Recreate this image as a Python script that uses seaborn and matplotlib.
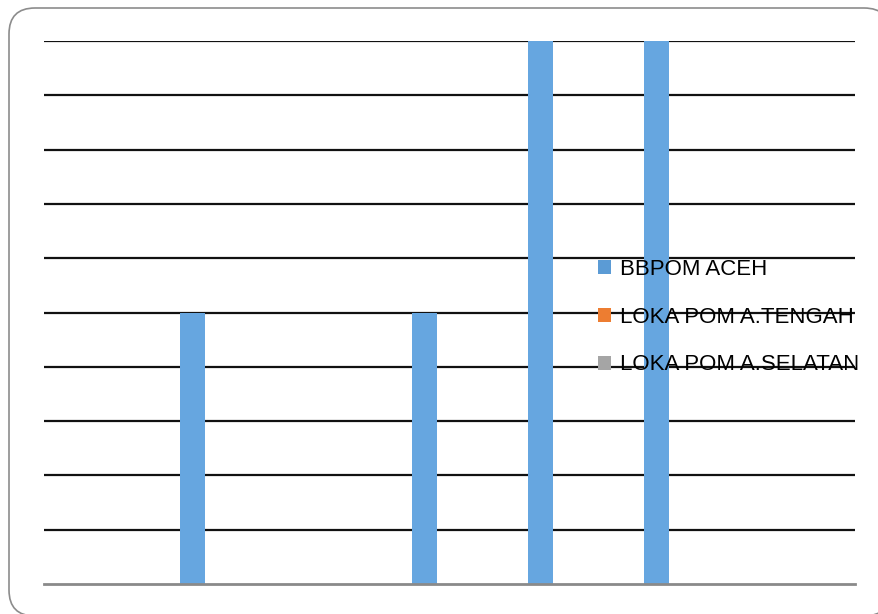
import numpy as np
import pandas as pd
import matplotlib.pyplot as plt
import seaborn as sns
from matplotlib.patches import FancyBboxPatch, Patch

# Data (no category labels are shown in the chart)
categories = ['1', '2', '3', '4', '5', '6', '7']
series = ['BBPOM ACEH', 'LOKA POM A.TENGAH', 'LOKA POM A.SELATAN']
bbpom_aceh = [0, 5, 0, 5, 10, 10, 0]
loka_tengah = [0, 0, 0, 0, 0, 0, 0]
loka_selatan = [0, 0, 0, 0, 0, 0, 0]
colors = ['#66A6E0', '#ED7D31', '#A5A5A5']
legend_colors = ['#5B9BD5', '#ED7D31', '#A5A5A5']

df = pd.DataFrame({
    'Kategori': categories * 3,
    'Nilai': bbpom_aceh + loka_tengah + loka_selatan,
    'Balai': [s for s in series for _ in categories],
})

sns.set_style('white')
plt.rcParams['font.family'] = ['Liberation Sans', 'DejaVu Sans']

fig = plt.figure(figsize=(8.79, 6.14), dpi=100)

# rounded chart frame, drawn in pixel units on a background axes
bg = fig.add_axes([0, 0, 1, 1], zorder=-1)
bg.set_xlim(0, 879)
bg.set_ylim(614, 0)
bg.axis('off')
bg.add_patch(FancyBboxPatch((9, 8), 881, 608,
                            boxstyle='round,pad=0,rounding_size=26',
                            facecolor='white', edgecolor='#8c8c8c',
                            linewidth=1.2))

ax = fig.add_axes([44 / 879, 1 - 584 / 614, 811 / 879, 543 / 614])
ax.set_facecolor('none')
sns.barplot(data=df, x='Kategori', y='Nilai', hue='Balai', palette=colors,
            width=0.65, ax=ax, legend=False, saturation=1, linewidth=0)

ax.set_ylim(0, 10)
ax.set_xlim(-0.5, 6.5)
ax.set_yticks(np.arange(1, 11))
ax.set_axisbelow(True)
ax.grid(axis='y', color='#111111', linewidth=1.6)
ax.grid(axis='x', visible=False)
ax.tick_params(left=False, bottom=False, labelleft=False, labelbottom=False)
ax.set_xlabel('')
ax.set_ylabel('')
for side in ['top', 'left', 'right']:
    ax.spines[side].set_visible(False)
ax.spines['bottom'].set_color('#8a8a8a')
ax.spines['bottom'].set_linewidth(2)

handles = [Patch(facecolor=c, edgecolor='none') for c in legend_colors]
leg = fig.legend(handles, series, loc='upper left',
                 bbox_to_anchor=(587 / 879, 1 - 248 / 614), frameon=False,
                 fontsize=16, handlelength=0.6, handleheight=0.6,
                 handletextpad=0.4, labelspacing=1.2, borderpad=0)
for t in leg.get_texts():
    t.set_color('#000000')

fig.savefig('out.png', dpi=100)
